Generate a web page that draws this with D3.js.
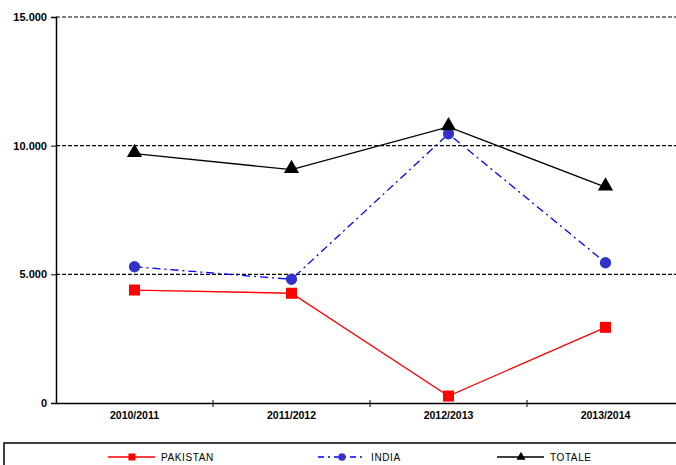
<!DOCTYPE html>
<html>
<head>
<meta charset="utf-8">
<script src="https://cdn.jsdelivr.net/npm/d3@7"></script>
<style>
	body { margin: 0; background: #fff; }
	svg { display: block; font-family: "Liberation Sans", Arial, sans-serif; }
</style>
</head>
<body>
<svg id="chart" width="676" height="465"></svg>
<script>
// 데이터
var categories = ["2010/2011", "2011/2012", "2012/2013", "2013/2014"];
var pakistan = [4390, 4265, 270, 2940];
var india = [5295, 4805, 10460, 5450];
var totale = [9690, 9070, 10730, 8390];
var yTicks = [0, 5000, 10000, 15000];
var seriesNames = ["PAKISTAN", "INDIA", "TOTALE"];

var svg = d3.select("#chart");
var margin = { top: 17, left: 56, bottom: 403 };

var x = d3.scaleBand()
	.domain(categories)
	.range([margin.left, margin.left + 4 * 157])
	.padding(0);

var y = d3.scaleLinear()
	.domain([0, 15000])
	.range([margin.bottom, margin.top]);

var fmt = d3.formatLocale({ decimal: ",", thousands: ".", grouping: [3], currency: ["", ""] }).format(",d");

// 그리드 (점선)
svg.append("g")
	.selectAll("line")
	.data(yTicks.filter(d => d > 0))
	.enter().append("line")
	.attr("x1", margin.left)
	.attr("x2", 676)
	.attr("y1", d => y(d))
	.attr("y2", d => y(d))
	.attr("stroke", "#000")
	.attr("stroke-width", 1.2)
	.attr("stroke-dasharray", "4,2");

// Y축
var yAxis = svg.append("g")
	.attr("transform", `translate(${margin.left},0)`)
	.call(d3.axisLeft(y).tickValues(yTicks).tickSize(5).tickPadding(4).tickFormat(fmt));
yAxis.select(".domain").attr("stroke-width", 1.5);
yAxis.selectAll("text")
	.style("font-size", "11px")
	.style("font-weight", "bold")
	.style("font-family", "Liberation Sans, Arial, sans-serif")
	.attr("fill", "#000");

// X축
var xAxis = svg.append("g")
	.attr("transform", `translate(0,${margin.bottom})`)
	.call(d3.axisBottom(x).tickSize(0).tickPadding(9));
xAxis.select(".domain").attr("stroke-width", 1.5);
xAxis.selectAll("text")
	.style("font-size", "10.5px")
	.style("font-weight", "bold")
	.style("font-family", "Liberation Sans, Arial, sans-serif")
	.attr("fill", "#000");

// 카테고리 경계 눈금
svg.append("g")
	.selectAll("line")
	.data(categories.slice(1))
	.enter().append("line")
	.attr("x1", d => x(d))
	.attr("x2", d => x(d))
	.attr("y1", margin.bottom - 3)
	.attr("y2", margin.bottom + 4)
	.attr("stroke", "#000");

var cx = d => x(d) + x.bandwidth() / 2;

var line = d3.line()
	.x((d, i) => cx(categories[i]))
	.y(d => y(d));

// 선
svg.append("path").datum(pakistan)
	.attr("d", line).attr("fill", "none").attr("stroke", "#ff0000").attr("stroke-width", 1.3);
svg.append("path").datum(india)
	.attr("d", line).attr("fill", "none").attr("stroke", "#0000ff").attr("stroke-width", 1.3)
	.attr("stroke-dasharray", "8,4,2,4");
svg.append("path").datum(totale)
	.attr("d", line).attr("fill", "none").attr("stroke", "#000").attr("stroke-width", 1.3);

// 마커
var sq = d3.symbol().type(d3.symbolSquare).size(121);
var ci = d3.symbol().type(d3.symbolCircle).size(100);
var tr = d3.symbol().type(d3.symbolTriangle).size(100);

svg.append("g").selectAll("path").data(pakistan).enter().append("path")
	.attr("d", sq).attr("fill", "#ff0000")
	.attr("transform", (d, i) => `translate(${cx(categories[i])},${y(d)})`);
svg.append("g").selectAll("path").data(india).enter().append("path")
	.attr("d", ci).attr("fill", "#3333cc")
	.attr("transform", (d, i) => `translate(${cx(categories[i])},${y(d)})`);
svg.append("g").selectAll("path").data(totale).enter().append("path")
	.attr("d", tr).attr("fill", "#000")
	.attr("transform", (d, i) => `translate(${cx(categories[i])},${y(d) - 1})`);

// 범례
svg.append("rect")
	.attr("x", 4).attr("y", 443)
	.attr("width", 700).attr("height", 40)
	.attr("fill", "none").attr("stroke", "#000").attr("stroke-width", 1.5);

var legendX = [108, 318, 497];
var legendColor = ["#ff0000", "#0000ff", "#000"];
var legendDash = [null, "6,4,2,4", null];
var legendSym = [
	d3.symbol().type(d3.symbolSquare).size(49),
	d3.symbol().type(d3.symbolCircle).size(45),
	d3.symbol().type(d3.symbolTriangle).size(36)
];
var markColor = ["#ff0000", "#3333cc", "#000"];

var lg = svg.append("g").selectAll("g")
	.data(seriesNames)
	.enter().append("g")
	.attr("transform", (d, i) => `translate(${legendX[i]},457)`);

lg.append("line")
	.attr("x1", 0).attr("x2", 47).attr("y1", 0).attr("y2", 0)
	.attr("stroke", (d, i) => legendColor[i])
	.attr("stroke-width", 1.3)
	.attr("stroke-dasharray", (d, i) => legendDash[i]);

lg.append("path")
	.attr("d", (d, i) => legendSym[i]())
	.attr("fill", (d, i) => markColor[i])
	.attr("transform", "translate(24,0)");

lg.append("text")
	.attr("x", 53)
	.attr("y", 4)
	.style("font-size", "10px")
	.style("letter-spacing", "0.6px")
	.attr("fill", "#000")
	.text(d => d);
</script>
</body>
</html>
